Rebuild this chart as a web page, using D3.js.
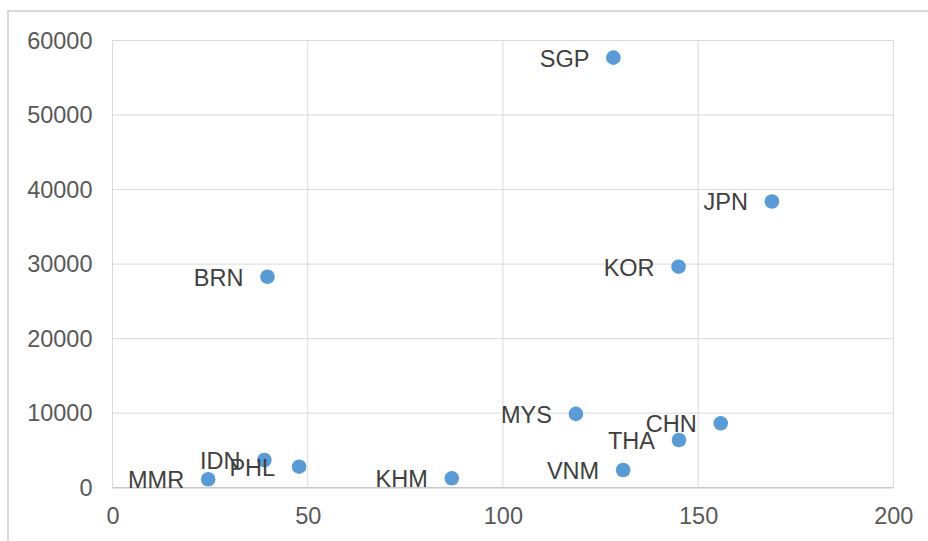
<!DOCTYPE html>
<html>
<head>
<meta charset="utf-8">
<script src="https://cdn.jsdelivr.net/npm/d3@7"></script>
<style>
  html, body { margin: 0; padding: 0; background: #ffffff; }
  svg { display: block; }
  text { font-family: "Liberation Sans", Arial, sans-serif; }
</style>
</head>
<body>
<svg id="chart" width="928" height="541"></svg>
<script>
// Data
const countries = ["SGP", "JPN", "KOR", "BRN", "MYS", "CHN", "THA", "VNM", "KHM", "MMR", "IDN", "PHL"];
const xValues   = [128.3, 168.9, 145.0, 39.7, 118.7, 155.8, 145.1, 130.8, 86.9, 24.5, 38.9, 47.8];
const yValues   = [57700, 38400, 29650, 28300, 9900, 8640, 6400, 2370, 1260, 1130, 3720, 2820];
const xTicks    = [0, 50, 100, 150, 200];
const yTicks    = [0, 10000, 20000, 30000, 40000, 50000, 60000];

const svg = d3.select("#chart");
const plotLeft = 112.5, plotRight = 893.3, plotTop = 40.5, plotBottom = 487.7;

const x = d3.scaleLinear().domain([0, 200]).range([plotLeft, plotRight]);
const y = d3.scaleLinear().domain([0, 60000]).range([plotBottom, plotTop]);

// Outer chart frame
svg.append("rect")
  .attr("x", 8).attr("y", 11)
  .attr("width", 960).attr("height", 600)
  .attr("fill", "#ffffff")
  .attr("stroke", "#d9d9d9")
  .attr("stroke-width", 2);

// Gridlines
svg.append("g").selectAll("line")
  .data(yTicks).join("line")
  .attr("x1", plotLeft).attr("x2", plotRight)
  .attr("y1", d => y(d)).attr("y2", d => y(d))
  .attr("stroke", d => d === 0 ? "#c8c8c8" : "#d9d9d9")
  .attr("stroke-width", d => d === 0 ? 1.5 : 1);

svg.append("g").selectAll("line")
  .data(xTicks).join("line")
  .attr("y1", plotTop).attr("y2", plotBottom)
  .attr("x1", d => x(d)).attr("x2", d => x(d))
  .attr("stroke", "#d9d9d9")
  .attr("stroke-width", 1);

// Axes (labels only)
const xAxis = d3.axisBottom(x).tickValues(xTicks).tickSize(0).tickPadding(19.5).tickFormat(d3.format("d"));
const yAxis = d3.axisLeft(y).tickValues(yTicks).tickSize(0).tickPadding(20).tickFormat(d3.format("d"));

const gx = svg.append("g").attr("transform", `translate(0,${plotBottom})`).call(xAxis);
const gy = svg.append("g").attr("transform", `translate(${plotLeft},0)`).call(yAxis);
[gx, gy].forEach(g => {
  g.select(".domain").remove();
  g.selectAll("text")
    .attr("fill", "#595959")
    .style("font-size", "23.5px")
    .style("font-family", "'Liberation Sans', Arial, sans-serif");
});

// Points
const data = countries.map((c, i) => ({ c, x: xValues[i], y: yValues[i] }));

svg.append("g").selectAll("circle")
  .data(data).join("circle")
  .attr("cx", d => x(d.x))
  .attr("cy", d => y(d.y))
  .attr("r", 7.3)
  .attr("fill", "#5b9bd5");

// Data labels (to the left of each point)
svg.append("g").selectAll("text")
  .data(data).join("text")
  .attr("x", d => x(d.x) - 24)
  .attr("y", d => y(d.y))
  .attr("dy", "0.38em")
  .attr("text-anchor", "end")
  .attr("fill", "#404040")
  .style("font-size", "23.5px")
  .text(d => d.c);
</script>
</body>
</html>
